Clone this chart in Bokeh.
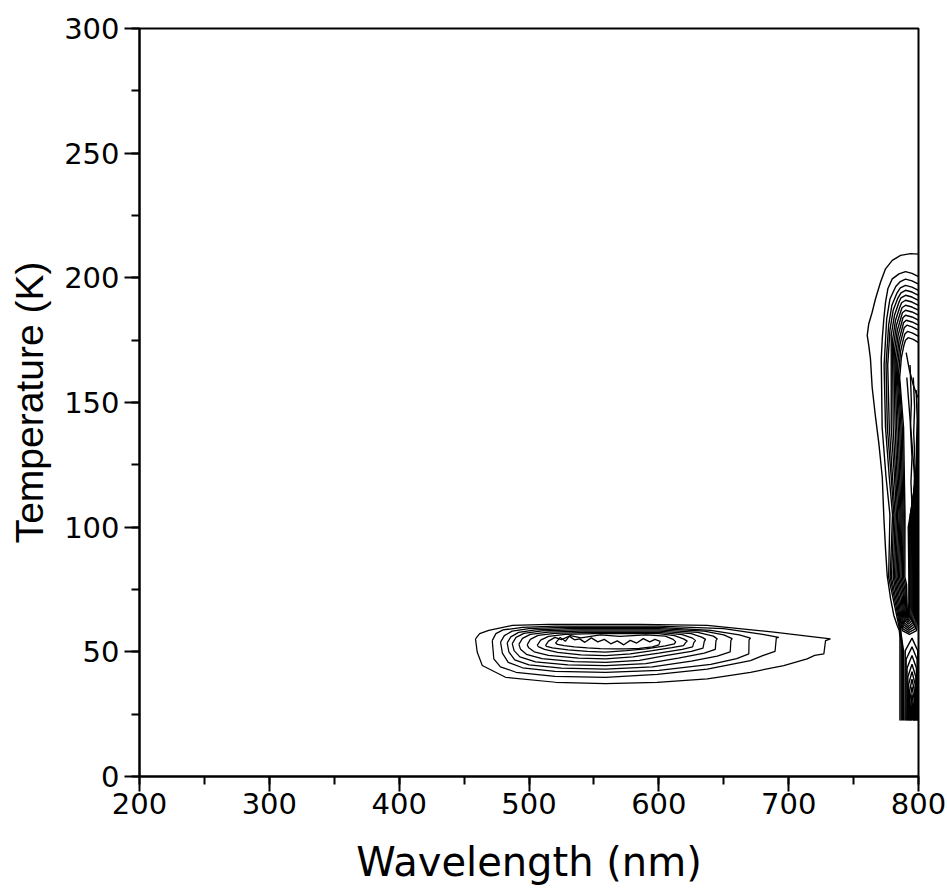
from bokeh.plotting import figure
from bokeh.models import Range1d, SingleIntervalTicker, ColumnDataSource
from bokeh.embed import file_html
from bokeh.resources import INLINE

# ---------------- data (wavelength nm, temperature K) ----------------
# Lower (visible band) contour rings, outer -> inner
lower_ring_wl = [
    [458.8, 462, 469.0, 487.1, 515.3, 586, 637.3, 688.6, 732.2, 728.4, 727.1, 720, 714.2, 696.2, 670.6, 637.3, 598.7, 559.0, 520.4, 481.9, 464.0, 460.1, 458.8],
    [471.7, 474.5, 480, 495, 520, 600, 650, 680, 692.4, 690.5, 689.5, 680, 670.6, 637.3, 598.7, 559, 520, 490, 478, 472.9, 471.7],
    [478.1, 481, 487, 500, 525, 600, 640, 662, 670.6, 669.5, 669.3, 660, 640, 600, 559, 520, 495, 484, 479.5, 478.1],
    [483.2, 486, 492, 505, 530, 600, 635, 650, 656.5, 655.5, 655, 645, 625, 595, 559, 525, 500, 489, 484.5, 483.2],
    [487.1, 490, 496, 510, 535, 600, 630, 642, 645, 644, 643.5, 635, 615, 590, 559, 530, 505, 493, 488.5, 487.1],
    [492.2, 495, 501, 515, 540, 600, 625, 633, 636, 635, 634, 625, 605, 585, 559, 535, 510, 498, 493.5, 492.2],
    [498.6, 501, 507, 520, 545, 600, 618, 626, 628.3, 627, 626, 618, 600, 580, 559, 538, 515, 504, 499.8, 498.6],
    [506.3, 509, 515, 528, 550, 600, 612, 619, 621.9, 620.5, 619, 610, 595, 578, 559, 540, 522, 512, 507.5, 506.3],
    [512.7, 515, 520, 525, 532, 540, 555, 570, 590, 605, 611, 613, 612, 605, 590, 575, 559, 545, 530, 518, 513.5, 512.7],
    [520.4, 524, 528, 531, 535, 539, 543, 548, 553, 558, 563, 568, 573, 578, 583, 588, 593, 597, 601, 600, 595, 585, 575, 565, 555, 545, 535, 527, 522, 520.4],
]
lower_ring_temp = [
    [55.2, 57.3, 58.6, 60.6, 61.0, 61.0, 60.6, 57.9, 55.2, 54.5, 49.2, 48.6, 47.2, 44.5, 41.8, 39.2, 37.8, 37.2, 37.8, 39.8, 44.5, 49.9, 55.2],
    [54.5, 57.3, 58.8, 59.8, 60.3, 60.3, 59.3, 57.0, 55.8, 55.6, 50.2, 48.5, 46.5, 43.1, 41.0, 39.8, 40.2, 41.8, 44.0, 47.2, 54.5],
    [53.9, 56.5, 58.3, 59.3, 59.8, 59.8, 58.6, 56.8, 55.5, 54.8, 49.2, 47.3, 45.0, 42.6, 41.8, 42.2, 43.6, 45.8, 49.5, 53.9],
    [53.6, 56.0, 57.8, 58.8, 59.3, 59.3, 58.3, 56.8, 55.3, 54.6, 50.0, 48.3, 46.3, 44.0, 43.1, 43.5, 44.8, 46.8, 50.0, 53.6],
    [53.3, 55.8, 57.4, 58.4, 58.8, 58.8, 57.8, 56.3, 55.2, 54.5, 51.0, 49.5, 47.5, 45.3, 44.5, 44.8, 46.0, 48.0, 50.5, 53.3],
    [53.0, 55.4, 57.0, 57.9, 58.3, 58.3, 57.3, 55.9, 55.0, 54.2, 51.5, 50.2, 48.5, 46.6, 45.8, 46.1, 47.3, 49.0, 51.0, 53.0],
    [52.8, 55.0, 56.6, 57.4, 57.8, 57.8, 56.9, 55.5, 54.5, 53.8, 52.0, 51.0, 49.5, 48.0, 47.2, 47.5, 48.6, 50.0, 51.6, 52.8],
    [52.6, 54.7, 56.2, 57.0, 57.3, 57.3, 56.5, 55.2, 54.3, 53.6, 52.5, 51.7, 50.5, 49.2, 48.5, 48.8, 49.8, 51.0, 52.0, 52.6],
    [52.5, 54.3, 55.8, 54.9, 56.5, 55.6, 56.8, 56.2, 56.8, 56.3, 55.0, 54.0, 53.2, 52.4, 51.2, 50.5, 49.9, 50.2, 50.8, 51.6, 52.2, 52.5],
    [53.5, 55.8, 54.2, 56.3, 54.8, 55.2, 53.8, 55.6, 54.0, 55.0, 53.2, 54.4, 52.8, 54.6, 53.5, 55.3, 54.0, 55.0, 54.2, 52.8, 52.0, 51.4, 51.2, 51.2, 51.3, 51.6, 52.0, 52.5, 53.0, 53.5],
]

# Right (near-infrared band) contour paths: outer -> inner, right-side pieces, low-temperature chevrons
right_path_wl = [
    [800, 793.9, 786.2, 779.8, 774.6, 770.8, 766.9, 764.3, 761.7, 760.5, 761.7, 763.0, 764.3, 766.9, 769.5, 772.1, 773.3, 774.6, 775.9, 778.5, 781.0, 783.6, 785.2, 785.7, 785.7],
    [800, 795, 790, 785, 779.8, 776.4, 774.6, 773.3, 772.1, 771.3, 772.0, 775.0, 778.0, 777.0, 781.0, 784.2, 785.8, 786.7, 786.7],
    [800, 795, 790, 786, 782.5, 778, 775.5, 773.5, 774.6, 777.5, 780, 778.2, 782, 785, 786.2, 787.6, 787.6],
    [800, 795, 790, 786, 783.5, 779.5, 777, 775, 776, 779, 781, 779.2, 783, 785.6, 786.6, 788.6, 788.6],
    [800, 795, 790, 786.5, 784.2, 780.5, 778.0, 776.3, 777.5, 780.0, 782.0, 780.5, 784.0, 786.2, 787.5, 793.0, 798.5, 799.2, 799.2, 799.3, 799.6, 800],
    [800, 795, 790, 786.5, 784.8, 781.5, 779, 779, 781.5, 783, 781.5, 785, 786.8, 788, 792.6, 797.6, 798.4, 798.4, 798.5, 799, 800],
    [800, 795, 790, 787, 785.4, 782.3, 780, 780.5, 782.5, 784, 782.5, 786, 787.4, 788.4, 792.5, 796.8, 797.6, 797.6, 797.7, 798.6, 800],
    [800, 795, 790, 787.3, 786, 783, 780.8, 782, 783.5, 785, 783.5, 786.8, 788, 788.8, 792.4, 796, 796.8, 796.8, 796.9, 798.2, 800],
    [800, 795, 790, 787.6, 786.5, 783.7, 781.6, 783.2, 784.5, 785.8, 784.5, 787.5, 788.6, 789.3, 792.3, 795.3, 796, 796, 796.1, 797.8, 800],
    [800, 795, 790, 788, 787, 784.3, 782.4, 784.4, 785.5, 786.6, 785.5, 788.2, 789.2, 789.8, 792.2, 794.6, 795.2, 795.2, 795.3, 797.3, 800],
    [800, 795, 790.5, 788.5, 787.5, 785, 783.2, 785.5, 786.5, 787.4, 786.5, 788.8, 789.8, 790.3, 792.1, 793.9, 794.4, 794.4, 794.5, 796.8, 800],
    [800, 795, 791, 789, 788, 785.6, 784, 786.5, 787.4, 788.2, 787.5, 789.5, 790.4, 790.8, 792, 793.2, 793.6, 793.6, 793.7, 796.3, 800],
    [800, 795.5, 791.5, 789.5, 788.4, 786.2, 784.8, 787.5, 788.3, 789, 788.5, 790.2, 790.8, 791.2, 791.9, 792.6, 793, 793, 792.9, 795.8, 800],
    [800, 796, 792, 790, 788.8, 786.8, 785.5, 788.5, 789.1, 789.6, 789.5, 790.8, 791.2, 791.5, 791.9, 792.3, 792.6, 792.6, 792.1, 795.3, 800],
    [790.5, 793.0, 796.0, 799.5],
    [791.0, 792.5, 794.0, 795.5, 797.0, 799.5],
    [793.5, 794.5, 793.8, 795.0, 794.2, 795.2],
    [796.0, 797.0, 796.3, 797.3, 796.6, 797.5],
    [798.2, 799.0, 798.4, 799.2, 798.6],
    [789.6, 789.8, 795, 799.4, 799.6],
    [790.3, 790.5, 795, 798.9, 799.1],
    [791.0, 791.2, 795, 798.4, 798.6],
    [791.6, 791.8, 795, 797.9, 798.1],
    [792.2, 792.4, 795, 797.4, 797.6],
    [792.8, 793.0, 795, 797.0, 797.2],
    [793.3, 793.5, 795, 796.6, 796.8],
    [793.8, 794.0, 795, 796.2, 796.4],
    [794.3, 794.5, 795, 795.9, 796.1],
    [794.7, 795.0, 795.8],
]
right_path_temp = [
    [209.5, 209.7, 209.0, 207.0, 203.6, 198.3, 191.6, 186.2, 181.6, 176.9, 172.9, 167.5, 156.1, 144.1, 133.4, 120.0, 104.0, 91.3, 80.6, 71.3, 64.6, 60.6, 58.6, 55.9, 22.5],
    [200.5, 201.8, 202.5, 201.6, 199.6, 195.6, 190.2, 183.6, 175.6, 167.5, 140, 120, 105, 80, 70, 62, 58, 53, 22.5],
    [197.5, 198.8, 199.5, 198.5, 196.5, 191.5, 183.5, 165, 140, 120, 105, 80, 70, 62, 58, 52, 22.5],
    [195, 196.3, 197, 196, 194, 189, 181, 165, 140, 120, 105, 80, 70, 62, 57, 50, 22.5],
    [193, 194.3, 195, 194, 192, 187, 179, 165, 140, 120, 105, 80, 70, 62, 58.5, 57.0, 58.5, 62, 80, 105, 130, 150],
    [191, 192.3, 193, 192, 190, 185, 177, 140, 120, 105, 80, 70, 62, 59.2, 57.8, 59.2, 62.5, 80, 105, 125, 145],
    [189, 190.3, 191, 190, 188, 183, 175, 140, 120, 105, 80, 70, 62.5, 60, 58.6, 60, 63, 80, 105, 125, 142],
    [187, 188.3, 189, 188, 186, 181, 173, 140, 120, 105, 80, 71, 63, 60.8, 59.4, 60.8, 64, 80, 105, 122, 139],
    [185, 186.3, 187, 186, 184, 179, 171, 140, 120, 105, 80, 72, 64, 61.6, 60.2, 61.6, 65, 80, 105, 120, 136],
    [183, 184.3, 185, 184, 182, 177, 169, 140, 120, 105, 80, 73, 65, 62.4, 61, 62.4, 66, 80, 105, 118, 133],
    [181, 182.3, 183, 182, 180, 175, 167, 140, 120, 105, 80, 74, 66, 63.2, 61.8, 63.2, 67, 80, 105, 116, 130],
    [179, 180.3, 181, 180, 178, 173, 165, 140, 120, 105, 80, 75, 67, 64, 62.6, 64, 68, 80, 105, 114, 127],
    [176.5, 177.8, 178.5, 177.5, 175.5, 170.5, 162.5, 140, 120, 105, 80, 76, 68, 64.8, 63.4, 64.8, 69, 80, 100, 112, 124],
    [174, 175.3, 176, 175, 173, 168, 160, 140, 120, 105, 80, 77, 69, 65.5, 64.2, 65.5, 70, 80, 100, 110, 121],
    [170, 163, 157, 152],
    [160, 150, 140, 130, 120, 112],
    [165, 150, 140, 128, 118, 106],
    [160, 148, 138, 126, 116, 106],
    [155, 143, 132, 120, 108],
    [22.5, 50.5, 55.5, 50.5, 22.5],
    [22.5, 47.0, 52.0, 47.0, 22.5],
    [22.5, 43.5, 48.5, 43.5, 22.5],
    [22.5, 40.0, 45.0, 40.0, 22.5],
    [22.5, 37.0, 42.0, 37.0, 22.5],
    [22.5, 34.0, 39.0, 34.0, 22.5],
    [22.5, 31.0, 36.0, 31.0, 22.5],
    [22.5, 28.0, 33.0, 28.0, 22.5],
    [22.5, 25.5, 30.0, 25.5, 22.5],
    [22.5, 27.0, 22.5],
]

x_label = "Wavelength (nm)"
y_label = "Temperature (K)"

# ---------------- figure ----------------
TICK_FONT = "DejaVu Sans"
p = figure(width=947, height=893, output_backend="svg", toolbar_location=None,
           x_range=Range1d(200, 800), y_range=Range1d(0, 300),
           min_border_left=139, min_border_right=29, min_border_top=28, min_border_bottom=117)
p.background_fill_color = "white"
p.border_fill_color = "white"
p.xgrid.visible = False
p.ygrid.visible = False
p.outline_line_color = "black"
p.outline_line_width = 2
p.outline_line_alpha = 1

lower_src = ColumnDataSource(dict(xs=lower_ring_wl, ys=lower_ring_temp))
right_src = ColumnDataSource(dict(xs=right_path_wl, ys=right_path_temp))
p.multi_line("xs", "ys", source=lower_src, line_color="black", line_width=1.25)
p.multi_line("xs", "ys", source=right_src, line_color="black", line_width=1.4)

p.xaxis.ticker = SingleIntervalTicker(interval=100, num_minor_ticks=2)
p.yaxis.ticker = SingleIntervalTicker(interval=50, num_minor_ticks=2)
for ax in (p.xaxis[0], p.yaxis[0]):
    ax.axis_line_color = "black"
    ax.axis_line_width = 2
    ax.major_tick_line_color = "black"
    ax.major_tick_line_width = 2
    ax.minor_tick_line_color = "black"
    ax.minor_tick_line_width = 2
    ax.major_tick_in = 0
    ax.major_tick_out = 15
    ax.minor_tick_in = 0
    ax.minor_tick_out = 8
    ax.major_label_text_font = TICK_FONT
    ax.major_label_text_font_size = "29px"
    ax.major_label_text_color = "black"
    ax.axis_label_text_font_style = "normal"
    ax.axis_label_text_color = "black"
p.xaxis.major_label_standoff = 1
p.yaxis.major_label_standoff = 5

p.yaxis.axis_label = y_label
p.yaxis.axis_label_text_font = "Liberation Sans"
p.yaxis.axis_label_text_font_size = "39px"
p.yaxis.axis_label_standoff = 10

p.xaxis.axis_label = x_label
p.xaxis.axis_label_text_font = "DejaVu Sans"
p.xaxis.axis_label_text_font_size = "40px"
p.xaxis.axis_label_standoff = 22

open("out.html", "w").write(file_html(p, INLINE))
